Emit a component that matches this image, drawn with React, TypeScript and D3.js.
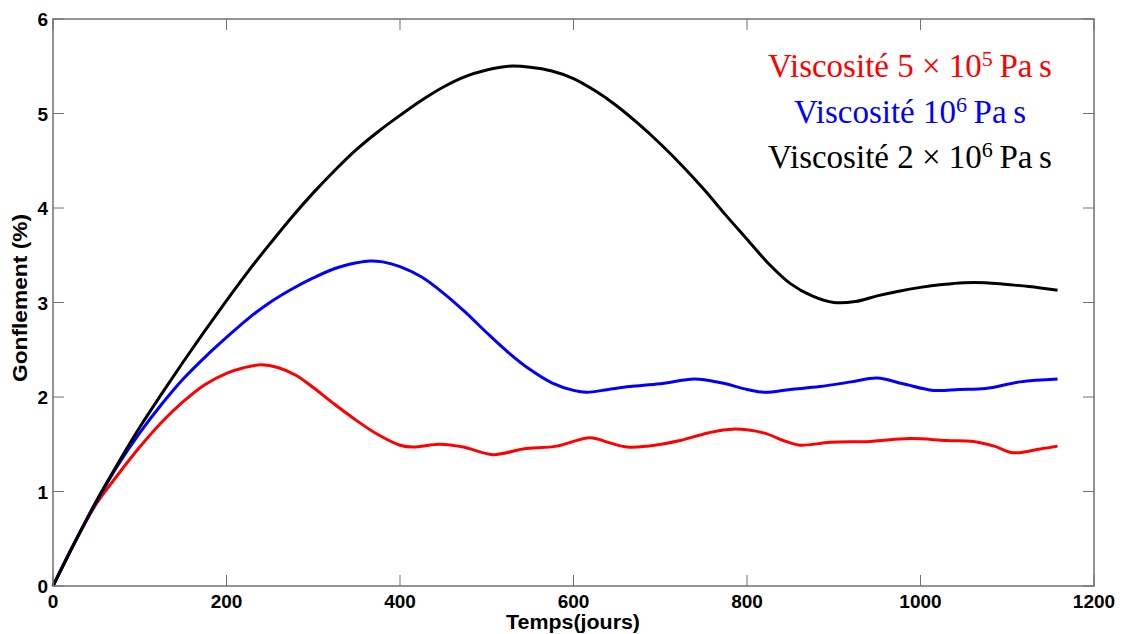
import React from "react";
import * as d3 from "d3";

const xTicks = [0, 200, 400, 600, 800, 1000, 1200];
const yTicks = [0, 1, 2, 3, 4, 5, 6];

const redX = [0, 25, 50, 75, 100, 125, 150, 175, 200, 220, 240, 260, 280, 300, 325, 350, 375, 400, 415, 446, 473, 507, 542, 581, 619, 640, 662, 685, 723, 755, 784, 819, 845, 861, 896, 942, 988, 1030, 1061, 1085, 1107, 1138, 1158];
const redY = [0, 0.46, 0.87, 1.18, 1.47, 1.73, 1.95, 2.13, 2.25, 2.31, 2.34, 2.31, 2.23, 2.1, 1.92, 1.75, 1.6, 1.49, 1.47, 1.5, 1.47, 1.39, 1.45, 1.48, 1.57, 1.52, 1.47, 1.48, 1.54, 1.62, 1.66, 1.62, 1.53, 1.49, 1.52, 1.53, 1.56, 1.54, 1.53, 1.48, 1.41, 1.45, 1.48];

const blueX = [0, 25, 50, 75, 100, 125, 150, 175, 200, 225, 250, 275, 300, 325, 350, 365, 380, 400, 425, 450, 475, 500, 525, 550, 575, 600, 615, 640, 665, 700, 740, 770, 800, 820, 850, 884, 920, 950, 980, 1015, 1045, 1075, 1115, 1158];
const blueY = [0, 0.46, 0.89, 1.28, 1.62, 1.92, 2.19, 2.42, 2.63, 2.83, 3.0, 3.14, 3.26, 3.36, 3.42, 3.44, 3.43, 3.38, 3.27, 3.1, 2.9, 2.68, 2.47, 2.29, 2.15, 2.07, 2.05, 2.08, 2.11, 2.14, 2.19, 2.15, 2.08, 2.05, 2.08, 2.11, 2.16, 2.2, 2.14, 2.07, 2.08, 2.09, 2.16, 2.19];

const blackX = [0, 25, 50, 75, 100, 125, 150, 175, 200, 225, 250, 275, 300, 325, 350, 375, 400, 425, 450, 475, 500, 525, 550, 575, 600, 625, 650, 675, 700, 725, 750, 775, 800, 825, 850, 875, 900, 925, 950, 975, 1000, 1025, 1050, 1075, 1100, 1125, 1158];
const blackY = [0, 0.46, 0.9, 1.3, 1.68, 2.03, 2.37, 2.7, 3.02, 3.33, 3.62, 3.9, 4.16, 4.4, 4.62, 4.81, 4.98, 5.14, 5.28, 5.39, 5.46, 5.5, 5.49, 5.45, 5.37, 5.24, 5.08, 4.89, 4.68, 4.45, 4.2, 3.93, 3.67, 3.41, 3.2, 3.07, 3.0, 3.01, 3.07, 3.12, 3.16, 3.19, 3.21, 3.21, 3.19, 3.17, 3.13];

const W = 1122, H = 634;
const L = 53, R = 1094, T = 19, B = 586;

export default function App() {
  const x = d3.scaleLinear().domain([0, 1200]).range([L, R]);
  const y = d3.scaleLinear().domain([0, 6]).range([B, T]);
  const line = d3
    .line<[number, number]>()
    .x((d) => x(d[0]))
    .y((d) => y(d[1]))
    .curve(d3.curveCatmullRom.alpha(0.5));
  const series = [
    { xs: redX, ys: redY, c: "#ff0000" },
    { xs: blueX, ys: blueY, c: "#0000ff" },
    { xs: blackX, ys: blackY, c: "#000000" },
  ];
  const axisColor = "#707070";
  const tickFont = { fontFamily: "Liberation Sans, Arial, sans-serif", fontWeight: 700, fontSize: 19 } as const;
  const labelFont = { fontFamily: "Liberation Sans, Arial, sans-serif", fontWeight: 700, fontSize: 20 } as const;
  const serif = "Liberation Serif, Times New Roman, serif";
  const legend = [
    { pre: "Viscosité 5 × 10", sup: "5", c: "#ff0000", y: 77 },
    { pre: "Viscosité 10", sup: "6", c: "#0000ff", y: 123 },
    { pre: "Viscosité 2 × 10", sup: "6", c: "#000000", y: 168 },
  ];
  return (
    <svg width={W} height={H} style={{ position: "absolute", left: 0, top: 0, background: "#fff" }}>
      <rect x={0} y={0} width={W} height={H} fill="#fff" />
      {series.map((s, i) => (
        <path
          key={i}
          d={line(s.xs.map((v, j) => [v, s.ys[j]] as [number, number])) || ""}
          fill="none"
          stroke={s.c}
          strokeWidth={3}
          strokeLinejoin="round"
        />
      ))}
      <rect x={L} y={T} width={R - L} height={B - T} fill="none" stroke={axisColor} strokeWidth={1.5} />
      {xTicks.map((t) => (
        <g key={"x" + t}>
          <line x1={x(t)} x2={x(t)} y1={B} y2={B - 11} stroke={axisColor} strokeWidth={1} />
          <line x1={x(t)} x2={x(t)} y1={T} y2={T + 11} stroke={axisColor} strokeWidth={1} />
          <text x={x(t)} y={B + 22} textAnchor="middle" {...tickFont} fill="#000">
            {t}
          </text>
        </g>
      ))}
      {yTicks.map((t) => (
        <g key={"y" + t}>
          <line x1={L} x2={L + 11} y1={y(t)} y2={y(t)} stroke={axisColor} strokeWidth={1} />
          <line x1={R} x2={R - 11} y1={y(t)} y2={y(t)} stroke={axisColor} strokeWidth={1} />
          <text x={L - 5} y={y(t) + 7} textAnchor="end" {...tickFont} fill="#000">
            {t}
          </text>
        </g>
      ))}
      <text x={573} y={629} textAnchor="middle" {...labelFont} fill="#000" textLength={134} lengthAdjust="spacingAndGlyphs">
        Temps(jours)
      </text>
      <text
        transform={`translate(27, 298) rotate(-90)`}
        textAnchor="middle"
        {...labelFont}
        fill="#000"
        textLength={168}
        lengthAdjust="spacingAndGlyphs"
      >
        Gonflement (%)
      </text>
      <g fontFamily={serif} fontSize={33} textAnchor="middle">
        {legend.map((l, i) => (
          <text key={i} x={910} y={l.y} fill={l.c}>
            {l.pre}
            <tspan dy={-11} fontSize={22}>{l.sup}</tspan>
            <tspan dy={11}>{"\u2009Pa\u2009s"}</tspan>
          </text>
        ))}
      </g>
    </svg>
  );
}
